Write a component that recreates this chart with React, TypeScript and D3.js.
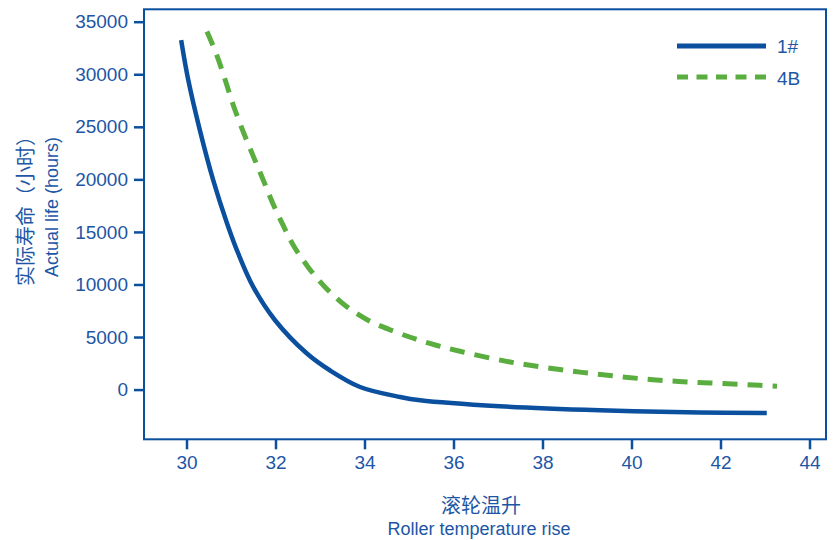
import React, { useEffect, useRef } from "react";
import * as d3 from "d3";

const xTicks = [30, 32, 34, 36, 38, 40, 42, 44];
const yTicks = [0, 5000, 10000, 15000, 20000, 25000, 30000, 35000];

const blueX = [29.88, 30.04, 30.3, 30.6, 30.91, 31.16, 31.5, 31.99, 32.7, 33.22, 33.9, 34.8, 35.25, 37.04, 39.29, 41.54, 43.04];
const blueY = [33257, 29449, 24688, 19928, 15834, 12977, 9769, 6598, 3456, 1838, 248, -705, -1019, -1590, -1971, -2190, -2228];

const greenX = [30.46, 30.68, 30.87, 31.05, 31.26, 31.49, 31.71, 31.94, 32.17, 32.4, 32.73, 33.11, 33.56, 34.06, 34.6, 35.16, 35.61, 36.17, 37.27, 38.39, 39.52, 40.64, 41.76, 42.89, 43.27];
const greenY = [34066, 31829, 29449, 27069, 24688, 22308, 20089, 17709, 15643, 13739, 11673, 9769, 8026, 6646, 5646, 4789, 4218, 3618, 2628, 1904, 1333, 885, 628, 409, 314];

const seriesNames = ["1#", "4B"];

const W = 839, H = 540;
const BLUE = "#0b4f9f";
const TEXT = "#1c56a5";
const GREEN = "#5aad3f";
const FONT = "'Liberation Sans', Arial, sans-serif";
const CJK = "'Noto Sans CJK SC', sans-serif";

export default function App() {
  const ref = useRef<SVGSVGElement | null>(null);
  useEffect(() => {
    const svg = d3.select(ref.current);
    svg.selectAll("*").remove();
    const left = 144, right = 826, top = 9.3, bottom = 439.3;
    const x = d3.scaleLinear().domain([29.045, 44.371]).range([left, right]);
    const y = d3.scaleLinear().domain([-4730, 36180]).range([bottom, top]);

    svg.append("rect").attr("x", left).attr("y", top).attr("width", right - left).attr("height", bottom - top)
      .attr("fill", "none").attr("stroke", BLUE).attr("stroke-width", 2);

    const xAxis = svg.append("g").attr("transform", `translate(0,${bottom})`)
      .call(d3.axisBottom(x).tickValues(xTicks).tickSize(10).tickSizeOuter(0).tickPadding(6));
    xAxis.select(".domain").remove();
    xAxis.selectAll("line").attr("stroke", BLUE).attr("stroke-width", 2.5);
    xAxis.selectAll("text").attr("fill", TEXT).attr("font-size", 19).attr("font-family", FONT);

    const yAxis = svg.append("g").attr("transform", `translate(${left},0)`)
      .call(d3.axisLeft(y).tickValues(yTicks).tickSize(10).tickSizeOuter(0).tickPadding(6).tickFormat(d3.format("d")));
    yAxis.select(".domain").remove();
    yAxis.selectAll("line").attr("stroke", BLUE).attr("stroke-width", 2.5);
    yAxis.selectAll("text").attr("fill", TEXT).attr("font-size", 19).attr("font-family", FONT);

    const line = d3.line<[number, number]>().x(d => x(d[0])).y(d => y(d[1])).curve(d3.curveCatmullRom.alpha(0.5));
    const blue = blueX.map((v, i) => [v, blueY[i]] as [number, number]);
    const green = greenX.map((v, i) => [v, greenY[i]] as [number, number]);

    svg.append("path").attr("d", line(green)).attr("fill", "none").attr("stroke", GREEN)
      .attr("stroke-width", 5).attr("stroke-dasharray", "15 10");
    svg.append("path").attr("d", line(blue)).attr("fill", "none").attr("stroke", BLUE)
      .attr("stroke-width", 4.5);

    const lg = svg.append("g");
    lg.append("line").attr("x1", 677).attr("x2", 766).attr("y1", 46).attr("y2", 46)
      .attr("stroke", BLUE).attr("stroke-width", 5);
    lg.append("line").attr("x1", 677).attr("x2", 766).attr("y1", 77).attr("y2", 77)
      .attr("stroke", GREEN).attr("stroke-width", 5).attr("stroke-dasharray", "11 8.5");
    lg.append("text").attr("x", 777).attr("y", 53).text(seriesNames[0])
      .attr("fill", TEXT).attr("font-size", 19).attr("font-family", FONT);
    lg.append("text").attr("x", 777).attr("y", 85).text(seriesNames[1])
      .attr("fill", TEXT).attr("font-size", 19).attr("font-family", FONT);

    svg.append("text").attr("x", 481).attr("y", 513).attr("text-anchor", "middle")
      .attr("fill", TEXT).attr("font-size", 20).attr("font-family", CJK).text("滚轮温升");
    svg.append("text").attr("x", 479).attr("y", 535).attr("text-anchor", "middle")
      .attr("fill", TEXT).attr("font-size", 18).attr("font-family", FONT).text("Roller temperature rise");
    svg.append("text").attr("transform", "translate(33,206) rotate(-90)").attr("text-anchor", "middle")
      .attr("fill", TEXT).attr("font-size", 20).attr("font-family", CJK).text("实际寿命（小时）");
    svg.append("text").attr("transform", "translate(58,207) rotate(-90)").attr("text-anchor", "middle")
      .attr("fill", TEXT).attr("font-size", 18).attr("font-family", FONT).text("Actual life (hours)");
  }, []);
  return (
    <svg ref={ref} width={W} height={H} style={{ position: "absolute", left: 0, top: 0, background: "#fff" }} />
  );
}
